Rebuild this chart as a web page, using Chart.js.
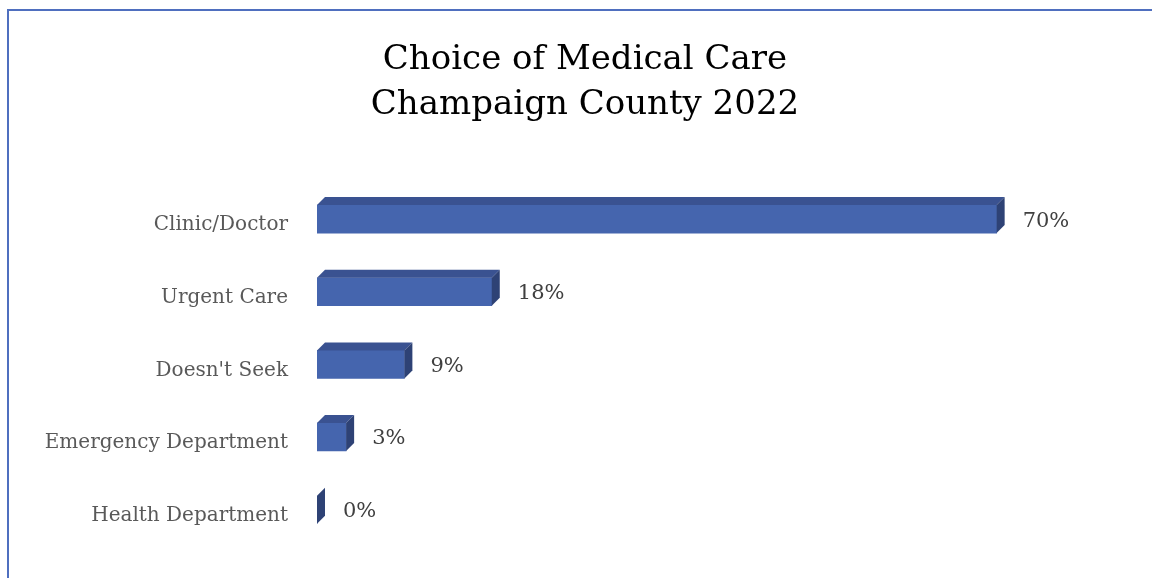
<!DOCTYPE html>
<html>
<head>
<meta charset="utf-8">
<script src="https://cdn.jsdelivr.net/npm/chart.js@4"></script>
<style>
  html, body { margin:0; padding:0; background:#fff; }
  #wrap { position:relative; width:1152px; height:578px; overflow:hidden; }
  #frame { position:absolute; left:7px; top:9px; width:1300px; height:700px;
           border-left:2px solid #4f6fbf; border-top:2px solid #4f6fbf; }
  canvas { position:absolute; left:0; top:0; }
</style>
</head>
<body>
<div id="wrap">
  <div id="frame"></div>
  <canvas id="chart" width="1152" height="578"></canvas>
</div>
<script>
// data
const categories = ['Clinic/Doctor', 'Urgent Care', "Doesn't Seek", 'Emergency Department', 'Health Department'];
const shares = [70, 18, 9, 3, 0];
const titleLines = ['Choice of Medical Care', 'Champaign County 2022'];

const FRONT = '#4565ae', TOP = '#3a5291', SIDE = '#2e4275';
const DEPTH = 8;

// draws the top + right faces of each bar and the % label
const bar3d = {
  id: 'bar3d',
  afterDatasetsDraw(chart) {
    const ctx = chart.ctx;
    ctx.save();
    chart.getDatasetMeta(0).data.forEach((bar, i) => {
      const l = bar.base, r = bar.x;
      const t = bar.y - bar.height / 2, b = bar.y + bar.height / 2;
      ctx.fillStyle = TOP;
      ctx.beginPath();
      ctx.moveTo(l, t); ctx.lineTo(l + DEPTH, t - DEPTH);
      ctx.lineTo(r + DEPTH, t - DEPTH); ctx.lineTo(r, t);
      ctx.closePath(); ctx.fill();
      ctx.fillStyle = SIDE;
      ctx.beginPath();
      ctx.moveTo(r, t); ctx.lineTo(r + DEPTH, t - DEPTH);
      ctx.lineTo(r + DEPTH, b - DEPTH); ctx.lineTo(r, b);
      ctx.closePath(); ctx.fill();

      ctx.fillStyle = '#404040';
      ctx.font = '21px "DejaVu Serif"';
      ctx.textAlign = 'left';
      ctx.textBaseline = 'middle';
      ctx.fillText(shares[i] + '%', r + 26, bar.y + 2);
    });
    ctx.restore();
  }
};

new Chart(document.getElementById('chart').getContext('2d'), {
  type: 'bar',
  data: {
    labels: categories,
    datasets: [{ data: shares, backgroundColor: FRONT, barThickness: 28 }]
  },
  options: {
    responsive: false,
    animation: false,
    indexAxis: 'y',
    layout: { padding: { left: 18, right: 0, top: 0, bottom: 32 } },
    plugins: {
      legend: { display: false },
      tooltip: { enabled: false },
      title: {
        display: true,
        text: titleLines,
        color: '#000',
        font: { family: '"DejaVu Serif"', size: 34, weight: 'normal', lineHeight: 1.32 },
        padding: { top: 38, bottom: 55 }
      }
    },
    scales: {
      x: { display: false, min: 0, max: 86 },
      y: {
        grid: { display: false, drawTicks: false },
        border: { display: false },
        ticks: { color: '#595959', padding: 29, labelOffset: 6,
                 font: { family: '"DejaVu Serif"', size: 20 } },
        afterFit(scale) {
          scale.width = 299;
          scale.paddingTop = 0;
          scale.paddingBottom = 0;
        }
      }
    }
  },
  plugins: [bar3d]
});
</script>
</body>
</html>
